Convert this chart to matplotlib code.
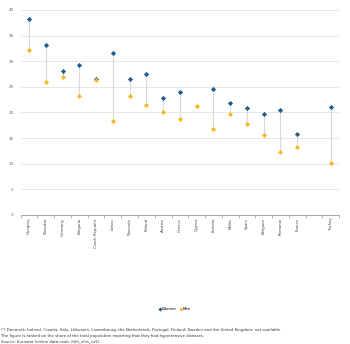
import matplotlib
matplotlib.use("Agg")
import matplotlib.pyplot as plt
import numpy as np

categories = ["Hungary", "Slovakia", "Germany", "Bulgaria", "Czech Republic", "Latvia",
              "Slovenia", "Poland", "Austria", "Greece", "Cyprus", "Estonia", "Malta",
              "Spain", "Belgium", "Romania", "France", "", "Turkey"]
women = [38.2, 33.1, 28.0, 29.3, 26.5, 31.6, 26.5, 27.6, 22.8, 23.9, np.nan, 24.5, 21.8,
         20.9, 19.8, 20.4, 15.9, np.nan, 21.0]
men = [32.1, 25.9, 26.9, 23.3, 26.3, 18.4, 23.2, 21.4, 20.1, 18.7, 21.3, 16.7, 19.8,
       17.7, 15.7, 12.2, 13.3, np.nan, 10.1]
yticks = [0, 5, 10, 15, 20, 25, 30, 35, 40]

blue = "#1d5b8a"
yellow = "#f5b82b"

fig = plt.figure(figsize=(3.5, 3.44), dpi=100)
ax = fig.add_axes([0.059, 0.375, 0.91, 0.596])
x = np.arange(len(categories))
w = np.array(women, dtype=float)
m = np.array(men, dtype=float)
for xi, a, b in zip(x, w, m):
    if not (np.isnan(a) or np.isnan(b)):
        ax.vlines(xi, min(a, b), max(a, b), color="#d9d9d9", lw=0.8, zorder=1)
ax.scatter(x, w, marker="D", s=7, color=blue, zorder=3, label="Women", linewidths=0)
ax.scatter(x, m, marker="D", s=7, color=yellow, zorder=3, label="Men", linewidths=0)

ax.set_xlim(-0.5, len(categories) - 0.5)
ax.set_ylim(0, 40)
ax.set_yticks(yticks)
ax.set_yticklabels([str(t) for t in yticks], fontsize=3.0, color="#666666")
ax.set_xticks(x)
ax.set_xticklabels(categories, rotation=90, fontsize=2.8, color="#444444")
ax.set_xticks(np.arange(len(categories) + 1) - 0.5, minor=True)
ax.tick_params(axis="x", which="major", length=0, pad=2)
ax.tick_params(axis="x", which="minor", length=2, width=0.5, color="#999999")
ax.tick_params(axis="y", length=0, pad=5)
ax.grid(axis="y", color="#e3e3e3", lw=0.6)
ax.set_axisbelow(True)
for s in ["top", "right", "left"]:
    ax.spines[s].set_visible(False)
ax.spines["bottom"].set_color("#999999")
ax.spines["bottom"].set_linewidth(0.6)

fig.legend(*ax.get_legend_handles_labels(), loc="center", bbox_to_anchor=(0.5, 1 - 309 / 344),
           ncol=2, frameon=False, fontsize=2.8, handlelength=0.4, handletextpad=0.2,
           columnspacing=0.8, markerscale=0.8)

fig.text(0.003, 1 - 330 / 344, "(\u00b9) Denmark, Ireland, Croatia, Italy, Lithuania, Luxembourg, the Netherlands, Portugal, Finland, Sweden and the United Kingdom: not available.",
         fontsize=2.75, va="center", color="#333333")
fig.text(0.003, 1 - 335.5 / 344, "The figure is ranked on the share of the total population reporting that they had hypertensive diseases.",
         fontsize=2.75, va="center", color="#333333")
fig.text(0.003, 1 - 341 / 344, "Source: Eurostat (online data code: hlth_ehis_cd1)",
         fontsize=2.75, va="center", color="#333333", style="italic")

fig.savefig("out.png", dpi=100)
